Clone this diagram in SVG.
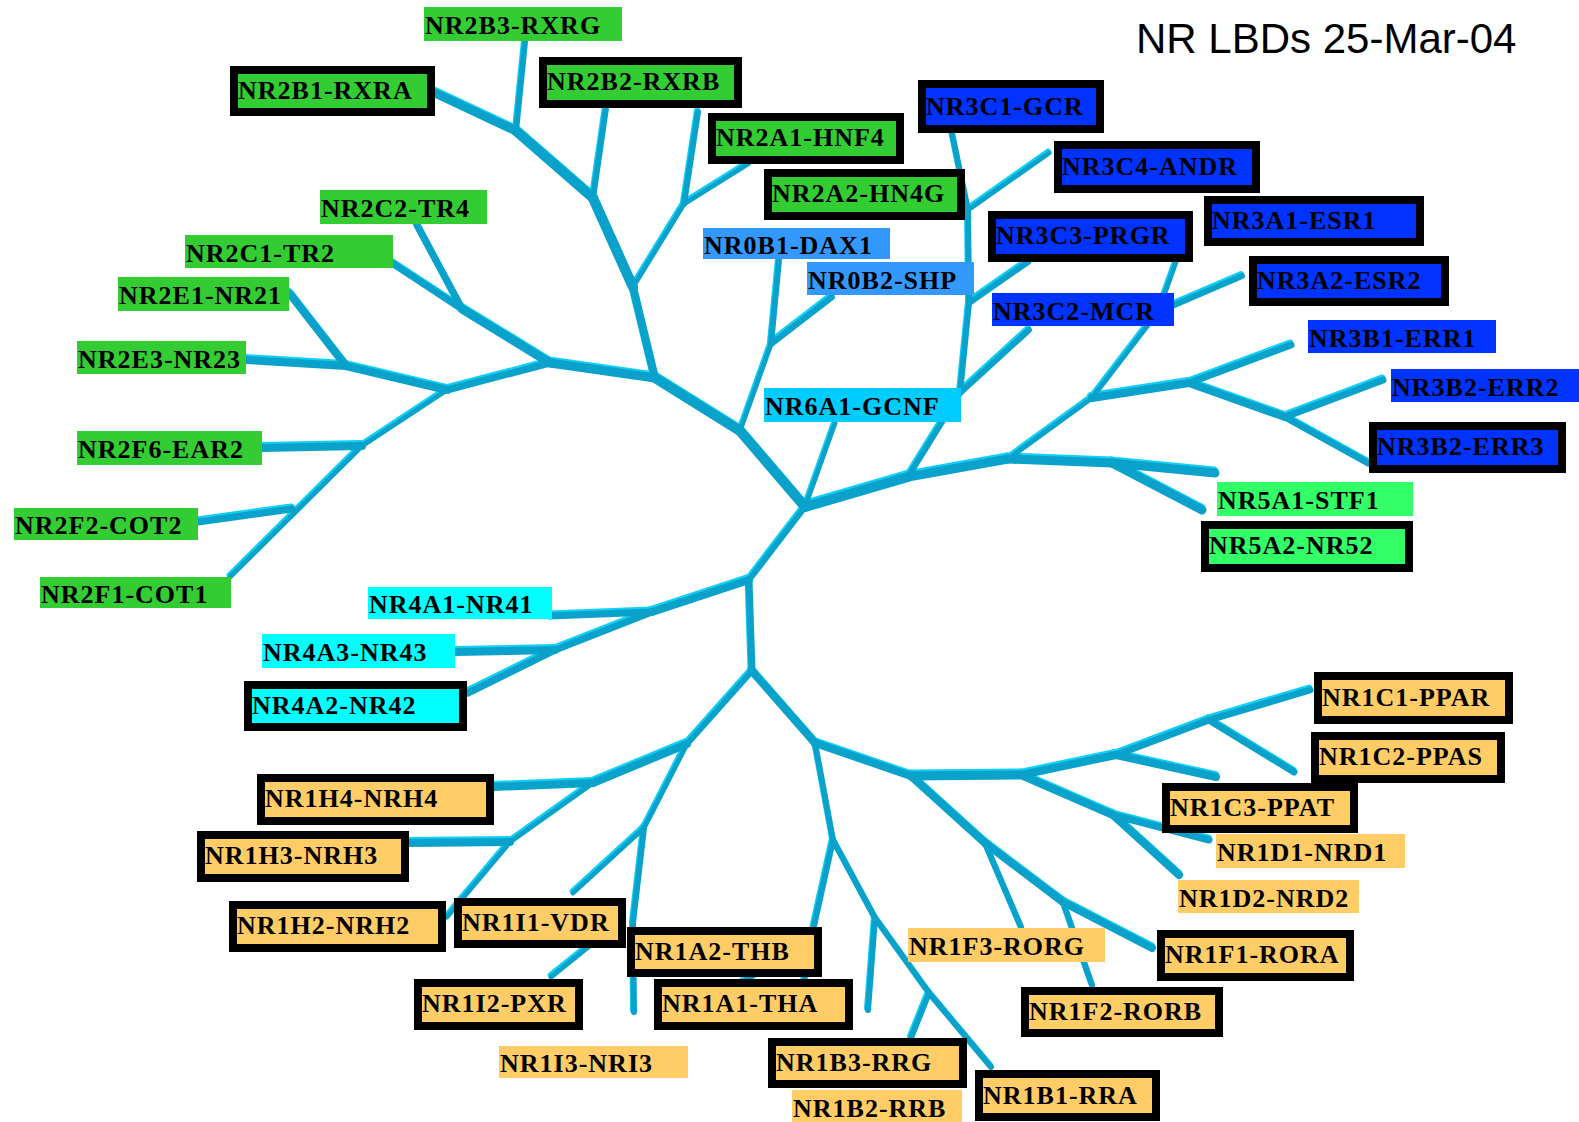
<svg xmlns="http://www.w3.org/2000/svg" xmlns:xlink="http://www.w3.org/1999/xlink" width="1579" height="1122" viewBox="0 0 1579 1122">
  <style>
    .lbl { font-family: "Liberation Serif", "Times New Roman", serif; font-weight: bold; font-size: 26px; letter-spacing: 1px; fill: #000; }
    .title { font-family: "Liberation Sans", Arial, sans-serif; font-size: 42px; fill: #000; }
    .bd { stroke: #000; stroke-width: 8; }
    .nr2 { fill: #33cc33; }
    .nr0 { fill: #3399ff; }
    .nr3 { fill: #0033ff; }
    .nr6 { fill: #00ccff; }
    .nr5 { fill: #33ff66; }
    .nr4 { fill: #00ffff; }
    .nr1 { fill: #ffcc66; }
    #branches path { fill: none; stroke-linecap: round; stroke-linejoin: round; }
    .w4 { stroke-width: 5; } .w5 { stroke-width: 6; } .w6 { stroke-width: 7; }
    .w7 { stroke-width: 8; } .w8 { stroke-width: 9; } .w9 { stroke-width: 10; }
  </style>
  <rect width="1579" height="1122" fill="#fff"/>

  <text class="title" x="1136" y="53">NR LBDs 25-Mar-04</text>

  <!-- tree branches: bright highlight copy underneath, main tone on top -->
  <g id="connectors">
    <use xlink:href="#branches" href="#branches" stroke="#0fd0f6" transform="translate(-1,-2)"/>
    <g stroke="#0aa2cb">
      <g id="branches">
        <!-- NR2 clade -->
        <path class="w8" d="M550 363 L655 378"/>
        <path class="w7" d="M655 378 L633 287"/>
        <path class="w9" d="M633 287 L593 198"/>
        <path class="w9" d="M593 198 L516 131"/>
        <path class="w8" d="M516 131 L435 93"/>
        <path class="w5" d="M516 131 L525 42"/>
        <path class="w5" d="M593 198 L606 108"/>
        <path class="w4" d="M633 287 L684 204"/>
        <path class="w5" d="M684 204 L698 112"/>
        <path class="w4" d="M684 204 L748 164"/>
        <path class="w8" d="M550 363 L462 309"/>
        <path class="w6" d="M462 309 L417 225"/>
        <path class="w6" d="M462 309 L392 263"/>
        <path class="w6" d="M550 363 L447 390"/>
        <path class="w7" d="M447 390 L346 366"/>
        <path class="w7" d="M346 366 L290 294"/>
        <path class="w7" d="M346 366 L246 360"/>
        <path class="w4" d="M447 390 L362 446"/>
        <path class="w7" d="M362 446 L262 448"/>
        <path class="w4" d="M362 446 L230 577"/>
        <path class="w6" d="M292 509 L198 522"/>
        <!-- NR0 / NR6 -->
        <path class="w9" d="M655 378 L740 431"/>
        <path class="w4" d="M740 431 L771 344"/>
        <path class="w5" d="M771 344 L779 260"/>
        <path class="w5" d="M771 344 L832 297"/>
        <path class="w9" d="M740 431 L805 507"/>
        <path class="w4" d="M805 507 L835 423"/>
        <!-- NR3 / NR5 -->
        <path class="w9" d="M805 507 L908 477"/>
        <path class="w5" d="M908 477 L960 393"/>
        <path class="w5" d="M960 393 L1029 330"/>
        <path class="w5" d="M960 393 L969 303"/>
        <path class="w5" d="M969 303 L1028 262"/>
        <path class="w5" d="M969 303 L968 210"/>
        <path class="w4" d="M968 210 L1049 153"/>
        <path class="w5" d="M968 210 L952 133"/>
        <path class="w8" d="M908 477 L1008 459"/>
        <path class="w8" d="M1008 459 L1112 463"/>
        <path class="w8" d="M1112 463 L1215 473"/>
        <path class="w8" d="M1112 463 L1202 510"/>
        <path class="w4" d="M1008 459 L1092 398"/>
        <path class="w7" d="M1092 398 L1189 383"/>
        <path class="w6" d="M1189 383 L1291 345"/>
        <path class="w7" d="M1189 383 L1285 417"/>
        <path class="w6" d="M1285 417 L1383 380"/>
        <path class="w6" d="M1285 417 L1368 463"/>
        <path class="w4" d="M1092 398 L1158 312"/>
        <path class="w5" d="M1158 312 L1242 276"/>
        <path class="w4" d="M1158 312 L1176 262"/>
        <!-- NR4 -->
        <path class="w5" d="M805 507 L749 580"/>
        <path class="w7" d="M749 580 L652 612"/>
        <path class="w6" d="M652 612 L550 616"/>
        <path class="w6" d="M652 612 L555 650"/>
        <path class="w7" d="M555 650 L455 652"/>
        <path class="w6" d="M555 650 L468 693"/>
        <!-- NR1 clade -->
        <path class="w6" d="M749 580 L752 671"/>
        <path class="w5" d="M752 671 L687 744"/>
        <path class="w7" d="M687 744 L593 783"/>
        <path class="w7" d="M593 783 L494 787"/>
        <path class="w4" d="M593 783 L510 842"/>
        <path class="w7" d="M510 842 L409 843"/>
        <path class="w4" d="M510 842 L447 917"/>
        <path class="w4" d="M687 744 L644 828"/>
        <path class="w4" d="M644 828 L573 893"/>
        <path class="w5" d="M644 828 L633 923 L634 1012"/>
        <path class="w4" d="M603 935 L551 977"/>
        <path class="w7" d="M752 671 L815 743"/>
        <path class="w5" d="M815 743 L833 840"/>
        <path class="w5" d="M833 840 L812 935 L803 988"/>
        <path class="w5" d="M812 935 L735 988"/>
        <path class="w5" d="M833 840 L875 918"/>
        <path class="w5" d="M875 918 L868 1010"/>
        <path class="w5" d="M875 918 L929 993"/>
        <path class="w5" d="M929 993 L911 1038"/>
        <path class="w5" d="M929 993 L991 1067"/>
        <path class="w7" d="M815 743 L911 776"/>
        <path class="w8" d="M911 776 L1021 775"/>
        <path class="w7" d="M1021 775 L1116 755"/>
        <path class="w6" d="M1116 755 L1209 720"/>
        <path class="w6" d="M1209 720 L1310 690"/>
        <path class="w6" d="M1209 720 L1294 772"/>
        <path class="w7" d="M1116 755 L1216 777"/>
        <path class="w7" d="M1021 775 L1113 815"/>
        <path class="w6" d="M1113 815 L1209 840"/>
        <path class="w7" d="M1113 815 L1179 875"/>
        <path class="w7" d="M911 776 L985 843"/>
        <path class="w5" d="M985 843 L1021 927"/>
        <path class="w7" d="M985 843 L1063 902"/>
        <path class="w7" d="M1063 902 L1152 948"/>
        <path class="w5" d="M1063 902 L1092 985"/>
      </g>
    </g>
  </g>

  <!-- NR2 labels -->
  <g id="NR2B3-RXRG"><rect class="nr2" x="424" y="7" width="198" height="34"/><text class="lbl" x="425" y="34">NR2B3-RXRG</text></g>
  <g id="NR2B1-RXRA"><rect class="nr2 bd" x="234" y="70" width="197" height="42"/><text class="lbl" x="238" y="99">NR2B1-RXRA</text></g>
  <g id="NR2B2-RXRB"><rect class="nr2 bd" x="543" y="61" width="195" height="43"/><text class="lbl" x="547" y="90">NR2B2-RXRB</text></g>
  <g id="NR2A1-HNF4"><rect class="nr2 bd" x="712" y="117" width="188" height="43"/><text class="lbl" x="716" y="146">NR2A1-HNF4</text></g>
  <g id="NR2A2-HN4G"><rect class="nr2 bd" x="768" y="173" width="193" height="43"/><text class="lbl" x="772" y="202">NR2A2-HN4G</text></g>
  <g id="NR2C2-TR4"><rect class="nr2" x="320" y="190" width="167" height="34"/><text class="lbl" x="321" y="217">NR2C2-TR4</text></g>
  <g id="NR2C1-TR2"><rect class="nr2" x="185" y="235" width="208" height="33"/><text class="lbl" x="186" y="262">NR2C1-TR2</text></g>
  <g id="NR2E1-NR21"><rect class="nr2" x="118" y="277" width="171" height="34"/><text class="lbl" x="119" y="304">NR2E1-NR21</text></g>
  <g id="NR2E3-NR23"><rect class="nr2" x="77" y="341" width="169" height="33"/><text class="lbl" x="78" y="368">NR2E3-NR23</text></g>
  <g id="NR2F6-EAR2"><rect class="nr2" x="77" y="431" width="185" height="34"/><text class="lbl" x="78" y="458">NR2F6-EAR2</text></g>
  <g id="NR2F2-COT2"><rect class="nr2" x="14" y="508" width="184" height="32"/><text class="lbl" x="15" y="534">NR2F2-COT2</text></g>
  <g id="NR2F1-COT1"><rect class="nr2" x="40" y="577" width="191" height="31"/><text class="lbl" x="41" y="603">NR2F1-COT1</text></g>

  <!-- NR0 / NR6 labels -->
  <g id="NR0B1-DAX1"><rect class="nr0" x="703" y="228" width="187" height="31"/><text class="lbl" x="704" y="254">NR0B1-DAX1</text></g>
  <g id="NR0B2-SHP"><rect class="nr0" x="807" y="262" width="167" height="33"/><text class="lbl" x="808" y="289">NR0B2-SHP</text></g>
  <g id="NR6A1-GCNF"><rect class="nr6" x="764" y="388" width="197" height="34"/><text class="lbl" x="765" y="415">NR6A1-GCNF</text></g>

  <!-- NR3 labels -->
  <g id="NR3C1-GCR"><rect class="nr3 bd" x="922" y="84" width="178" height="45"/><text class="lbl" x="926" y="115">NR3C1-GCR</text></g>
  <g id="NR3C4-ANDR"><rect class="nr3 bd" x="1058" y="145" width="198" height="44"/><text class="lbl" x="1062" y="175">NR3C4-ANDR</text></g>
  <g id="NR3A1-ESR1"><rect class="nr3 bd" x="1208" y="200" width="212" height="42"/><text class="lbl" x="1212" y="229">NR3A1-ESR1</text></g>
  <g id="NR3C3-PRGR"><rect class="nr3 bd" x="992" y="215" width="197" height="43"/><text class="lbl" x="996" y="244">NR3C3-PRGR</text></g>
  <g id="NR3A2-ESR2"><rect class="nr3 bd" x="1253" y="260" width="192" height="42"/><text class="lbl" x="1257" y="289">NR3A2-ESR2</text></g>
  <g id="NR3C2-MCR"><rect class="nr3" x="992" y="293" width="182" height="33"/><text class="lbl" x="993" y="320">NR3C2-MCR</text></g>
  <g id="NR3B1-ERR1"><rect class="nr3" x="1308" y="320" width="188" height="33"/><text class="lbl" x="1309" y="347">NR3B1-ERR1</text></g>
  <g id="NR3B2-ERR2"><rect class="nr3" x="1391" y="369" width="188" height="33"/><text class="lbl" x="1392" y="396">NR3B2-ERR2</text></g>
  <g id="NR3B2-ERR3"><rect class="nr3 bd" x="1373" y="426" width="189" height="43"/><text class="lbl" x="1377" y="455">NR3B2-ERR3</text></g>

  <!-- NR5 labels -->
  <g id="NR5A1-STF1"><rect class="nr5" x="1217" y="482" width="196" height="34"/><text class="lbl" x="1218" y="509">NR5A1-STF1</text></g>
  <g id="NR5A2-NR52"><rect class="nr5 bd" x="1205" y="525" width="204" height="43"/><text class="lbl" x="1209" y="554">NR5A2-NR52</text></g>

  <!-- NR4 labels -->
  <g id="NR4A1-NR41"><rect class="nr4" x="368" y="587" width="184" height="32"/><text class="lbl" x="369" y="613">NR4A1-NR41</text></g>
  <g id="NR4A3-NR43"><rect class="nr4" x="262" y="634" width="193" height="34"/><text class="lbl" x="263" y="661">NR4A3-NR43</text></g>
  <g id="NR4A2-NR42"><rect class="nr4 bd" x="248" y="685" width="215" height="42"/><text class="lbl" x="252" y="714">NR4A2-NR42</text></g>

  <!-- NR1 labels -->
  <g id="NR1C1-PPAR"><rect class="nr1 bd" x="1318" y="676" width="191" height="44"/><text class="lbl" x="1322" y="706">NR1C1-PPAR</text></g>
  <g id="NR1C2-PPAS"><rect class="nr1 bd" x="1315" y="736" width="186" height="43"/><text class="lbl" x="1319" y="765">NR1C2-PPAS</text></g>
  <g id="NR1C3-PPAT"><rect class="nr1 bd" x="1166" y="787" width="188" height="42"/><text class="lbl" x="1170" y="816">NR1C3-PPAT</text></g>
  <g id="NR1D1-NRD1"><rect class="nr1" x="1216" y="834" width="189" height="34"/><text class="lbl" x="1217" y="861">NR1D1-NRD1</text></g>
  <g id="NR1D2-NRD2"><rect class="nr1" x="1178" y="880" width="181" height="33"/><text class="lbl" x="1179" y="907">NR1D2-NRD2</text></g>
  <g id="NR1F1-RORA"><rect class="nr1 bd" x="1161" y="934" width="189" height="43"/><text class="lbl" x="1165" y="963">NR1F1-RORA</text></g>
  <g id="NR1F3-RORG"><rect class="nr1" x="908" y="928" width="197" height="34"/><text class="lbl" x="909" y="955">NR1F3-RORG</text></g>
  <g id="NR1F2-RORB"><rect class="nr1 bd" x="1025" y="991" width="194" height="42"/><text class="lbl" x="1029" y="1020">NR1F2-RORB</text></g>
  <g id="NR1H4-NRH4"><rect class="nr1 bd" x="261" y="778" width="229" height="43"/><text class="lbl" x="265" y="807">NR1H4-NRH4</text></g>
  <g id="NR1H3-NRH3"><rect class="nr1 bd" x="201" y="835" width="204" height="43"/><text class="lbl" x="205" y="864">NR1H3-NRH3</text></g>
  <g id="NR1H2-NRH2"><rect class="nr1 bd" x="233" y="905" width="209" height="43"/><text class="lbl" x="237" y="934">NR1H2-NRH2</text></g>
  <g id="NR1I1-VDR"><rect class="nr1 bd" x="458" y="902" width="164" height="42"/><text class="lbl" x="462" y="931">NR1I1-VDR</text></g>
  <g id="NR1A2-THB"><rect class="nr1 bd" x="631" y="931" width="187" height="42"/><text class="lbl" x="635" y="960">NR1A2-THB</text></g>
  <g id="NR1I2-PXR"><rect class="nr1 bd" x="418" y="983" width="161" height="43"/><text class="lbl" x="422" y="1012">NR1I2-PXR</text></g>
  <g id="NR1A1-THA"><rect class="nr1 bd" x="658" y="983" width="191" height="43"/><text class="lbl" x="662" y="1012">NR1A1-THA</text></g>
  <g id="NR1I3-NRI3"><rect class="nr1" x="499" y="1046" width="189" height="32"/><text class="lbl" x="500" y="1072">NR1I3-NRI3</text></g>
  <g id="NR1B3-RRG"><rect class="nr1 bd" x="772" y="1042" width="191" height="42"/><text class="lbl" x="776" y="1071">NR1B3-RRG</text></g>
  <g id="NR1B2-RRB"><rect class="nr1" x="792" y="1090" width="170" height="32"/><text class="lbl" x="793" y="1117">NR1B2-RRB</text></g>
  <g id="NR1B1-RRA"><rect class="nr1 bd" x="979" y="1074" width="177" height="43"/><text class="lbl" x="983" y="1104">NR1B1-RRA</text></g>
</svg>
